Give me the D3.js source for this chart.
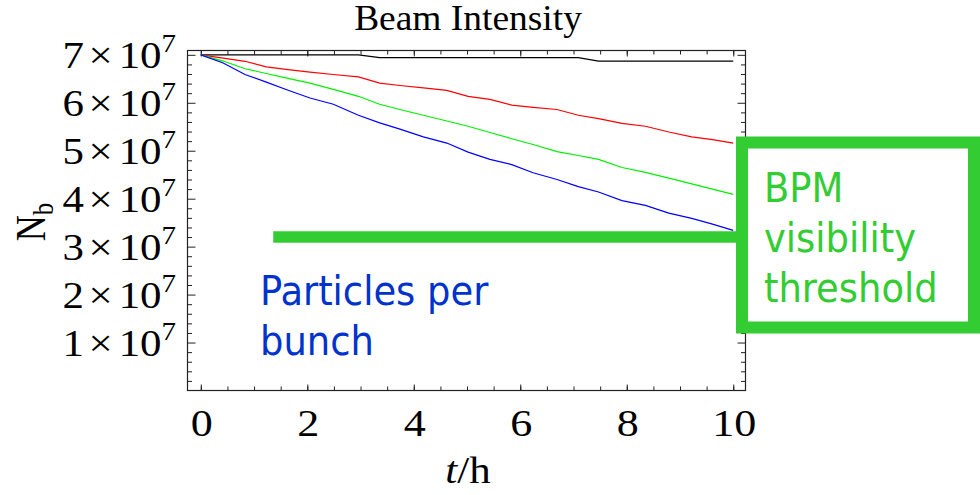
<!DOCTYPE html>
<html>
<head>
<meta charset="utf-8">
<script src="https://cdn.jsdelivr.net/npm/d3@7"></script>
<style>
  body { margin: 0; background: #fff; }
  svg { display: block; }
  .serif { font-family: "Liberation Serif", "Times New Roman", serif; fill: #000; }
  .note { font-family: "DejaVu Sans Condensed", "DejaVu Sans", sans-serif; font-stretch: condensed; }
</style>
</head>
<body>
<svg id="chart" width="980" height="495"></svg>
<script>
// time axis (hours) shared by all runs
const hours = [0, 0.42, 0.83, 1.23, 1.64, 2.05, 2.49, 2.96, 3.36, 3.74, 4.18, 4.62, 5.02,
               5.43, 5.84, 6.24, 6.69, 7.09, 7.47, 7.91, 8.35, 8.79, 9.22, 9.61, 10];

// particles per bunch, in units of 1e7
const nbBlack = [7.0, 7.0, 7.0, 7.0, 7.0, 7.0, 7.0, 7.0, 6.94, 6.94, 6.94, 6.94, 6.94,
                 6.94, 6.94, 6.94, 6.94, 6.94, 6.87, 6.87, 6.87, 6.87, 6.87, 6.87, 6.87];
const nbRed = [7.0, 6.93, 6.865, 6.75, 6.69, 6.64, 6.59, 6.54, 6.41, 6.36, 6.31, 6.26, 6.135,
               6.07, 5.95, 5.905, 5.86, 5.74, 5.67, 5.57, 5.51, 5.39, 5.29, 5.23, 5.16];
const nbGreen = [7.0, 6.87, 6.71, 6.61, 6.51, 6.41, 6.28, 6.135, 5.97, 5.86, 5.74, 5.62, 5.51,
                 5.38, 5.25, 5.13, 4.98, 4.90, 4.82, 4.65, 4.55, 4.43, 4.31, 4.20, 4.09];
const nbBlue = [7.0, 6.83, 6.59, 6.43, 6.26, 6.10, 5.97, 5.74, 5.58, 5.45, 5.29, 5.16, 4.97,
                4.82, 4.71, 4.54, 4.40, 4.25, 4.14, 3.96, 3.86, 3.70, 3.59, 3.47, 3.34];

const seriesColors = ["#000000", "#ff0000", "#00f000", "#0000ff"];

const yTickValues = [1, 2, 3, 4, 5, 6, 7];
const xTickValues = [0, 2, 4, 6, 8, 10];

// BPM threshold (1e7) and where the marker bar starts (h)
const threshold = 3.2;
const thresholdStart = 1.36;

const titleText = "Beam Intensity";
const boxLines = ["BPM", "visibility", "threshold"];
const noteLines = ["Particles per", "bunch"];

const accent = "#33cc33";
const stretch = 1.16; // the original plot image is a bit wider than tall

const svg = d3.select("#chart");

const frame = {left: 187.5, right: 745.5, top: 50.5, bottom: 390.5};

const x = d3.scaleLinear().domain([-0.25, 10.23]).range([frame.left, frame.right]);
const y = d3.scaleLinear().domain([0, 7.09]).range([frame.bottom, frame.top]);

/**
 * ticks pointing into the frame
 */
const minorX = d3.range(0, 10.01, 0.5);
const minorY = d3.range(0.2, 7.01, 0.2).filter(v => Math.abs(v - Math.round(v)) > 0.01);

function tickGroup(axis, tx, ty) {
    const g = svg.append("g").attr("transform", `translate(${tx}, ${ty})`).call(axis);
    g.select(".domain").remove();
    g.selectAll("text").remove();
    g.selectAll("line").attr("stroke", "#222").attr("stroke-width", 1);
    return g;
}

tickGroup(d3.axisBottom(x).tickValues(minorX).tickSize(-4), 0, frame.bottom);
tickGroup(d3.axisBottom(x).tickValues(xTickValues).tickSize(-6), 0, frame.bottom);
tickGroup(d3.axisTop(x).tickValues(minorX).tickSize(-4), 0, frame.top);
tickGroup(d3.axisTop(x).tickValues(xTickValues).tickSize(-6), 0, frame.top);
tickGroup(d3.axisLeft(y).tickValues(minorY).tickSize(-4.5), frame.left, 0);
tickGroup(d3.axisLeft(y).tickValues(yTickValues).tickSize(-8), frame.left, 0);
tickGroup(d3.axisRight(y).tickValues(minorY).tickSize(-4.5), frame.right, 0);
tickGroup(d3.axisRight(y).tickValues(yTickValues).tickSize(-8), frame.right, 0);

svg.append("rect")
    .attr("x", frame.left).attr("y", frame.top)
    .attr("width", frame.right - frame.left)
    .attr("height", frame.bottom - frame.top)
    .attr("fill", "none")
    .attr("stroke", "#222")
    .attr("stroke-width", 1.2);

/**
 * data lines
 */
const line = d3.line().x((d, i) => x(hours[i])).y(d => y(d));
[nbBlack, nbRed, nbGreen, nbBlue].forEach((s, i) => {
    svg.append("path")
        .datum(s)
        .attr("fill", "none")
        .attr("stroke", seriesColors[i])
        .attr("stroke-width", 1.2)
        .attr("d", line);
});

/**
 * tick labels, in the stretched serif look of the plot
 */
svg.selectAll(".ylab")
    .data(yTickValues)
    .join("text")
    .attr("class", "ylab serif")
    .attr("text-anchor", "end")
    .attr("font-size", 37)
    .attr("transform", d => `translate(176, ${y(d) + 13}) scale(${stretch}, 1)`)
    .each(function (d) {
        const t = d3.select(this);
        t.append("tspan").text(d);
        t.append("tspan").attr("dx", 4).text("\u00d7");
        t.append("tspan").attr("dx", 5).text("10");
        t.append("tspan").attr("dy", -16).attr("font-size", 25).text("7");
    });

svg.selectAll(".xlab")
    .data(xTickValues)
    .join("text")
    .attr("class", "xlab serif")
    .attr("text-anchor", "middle")
    .attr("font-size", 38)
    .attr("transform", d => `translate(${x(d) + 1}, 436) scale(${stretch}, 1)`)
    .text(d => d);

// title
svg.append("text")
    .attr("class", "serif")
    .attr("text-anchor", "middle")
    .attr("font-size", 35)
    .attr("transform", `translate(468, 29.5) scale(1.07, 1)`)
    .text(titleText);

// x axis label  t/h
const xLabel = svg.append("text")
    .attr("class", "serif")
    .attr("text-anchor", "middle")
    .attr("font-size", 37)
    .attr("transform", `translate(468, 483) scale(${stretch}, 1)`);
xLabel.append("tspan").attr("font-style", "italic").text("t");
xLabel.append("tspan").text("/h");

// y axis label  N_b
const yLabel = svg.append("text")
    .attr("class", "serif")
    .attr("text-anchor", "middle")
    .attr("font-size", 36)
    .attr("transform", `translate(45, 222) scale(${stretch}, 1) rotate(-90)`);
yLabel.append("tspan").text("N");
yLabel.append("tspan").attr("dy", 7).attr("font-size", 25).text("b");

/**
 * overlay annotations
 */
svg.append("line")
    .attr("x1", x(thresholdStart))
    .attr("x2", 742)
    .attr("y1", y(threshold))
    .attr("y2", y(threshold))
    .attr("stroke", accent)
    .attr("stroke-width", 11.5);

svg.append("rect")
    .attr("x", 742).attr("y", 142.5)
    .attr("width", 232).attr("height", 185)
    .attr("fill", "#fff")
    .attr("stroke", accent)
    .attr("stroke-width", 12);

svg.selectAll(".boxline")
    .data(boxLines)
    .join("text")
    .attr("class", "boxline note")
    .attr("x", 764)
    .attr("y", (d, i) => 201.5 + i * 50)
    .attr("font-size", 41)
    .attr("fill", accent)
    .text(d => d);

svg.selectAll(".noteline")
    .data(noteLines)
    .join("text")
    .attr("class", "noteline note")
    .attr("x", 260)
    .attr("y", (d, i) => 305 + i * 50)
    .attr("font-size", 41)
    .attr("fill", "#0033cc")
    .text(d => d);
</script>
</body>
</html>
